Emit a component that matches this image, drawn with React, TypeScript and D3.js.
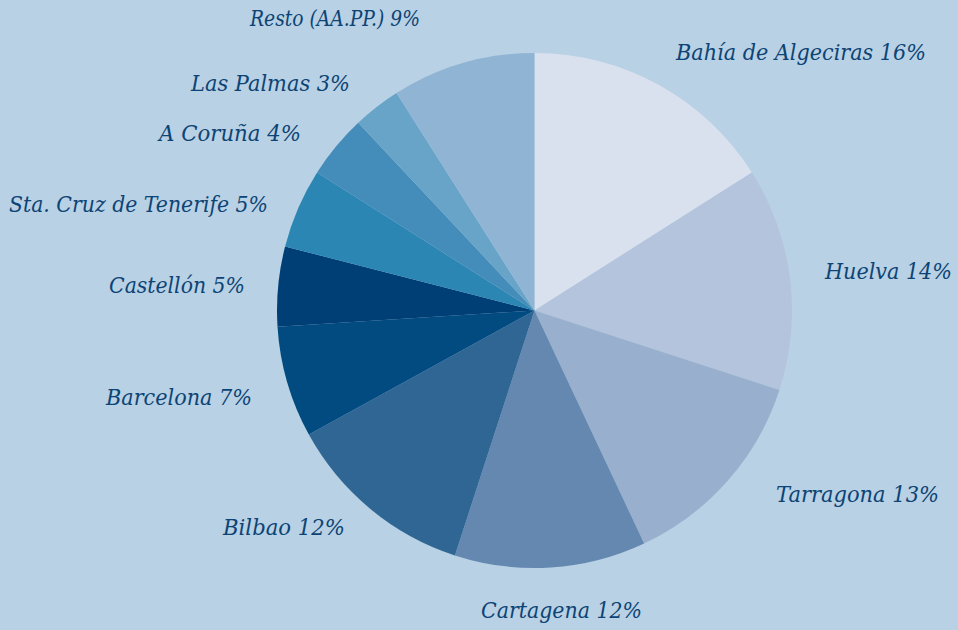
import React from "react";
import * as d3 from "d3";

const categories = [
  "Bahía de Algeciras",
  "Huelva",
  "Tarragona",
  "Cartagena",
  "Bilbao",
  "Barcelona",
  "Castellón",
  "Sta. Cruz de Tenerife",
  "A Coruña",
  "Las Palmas",
  "Resto (AA.PP.)",
];
const values = [16, 14, 13, 12, 12, 7, 5, 5, 4, 3, 9];
const colors = [
  "#dae1ee",
  "#b3c4dc",
  "#98afcd",
  "#6488b0",
  "#306694",
  "#024b80",
  "#003f75",
  "#2b86b3",
  "#448cb9",
  "#68a4c8",
  "#90b5d4",
];
// label layout: start x, baseline y, rendered width
const labelPos: [number, number, number][] = [
  [676, 60, 250],
  [825, 279, 127],
  [776, 502, 163],
  [481, 618, 161],
  [223, 535, 122],
  [106, 405, 146],
  [109, 293, 136],
  [9, 212, 259],
  [159, 141, 142],
  [191, 91, 159],
  [250, 26, 170],
];

const W = 958;
const H = 630;
const CX = 534.5;
const CY = 310.5;
const R = 257.5;

export default function App() {
  const pie = d3.pie<number>().sort(null).value((d) => d)(values);
  const arc = d3.arc<d3.PieArcDatum<number>>().innerRadius(0).outerRadius(R);
  return (
    <div style={{ position: "fixed", left: 0, top: 0, width: W, height: H }}>
      <svg width={W} height={H} style={{ display: "block" }}>
        <rect width={W} height={H} fill="#b9d1e4" />
        <g transform={`translate(${CX},${CY})`}>
          {pie.map((p, i) => (
            <path key={i} d={arc(p) || ""} fill={colors[i]} />
          ))}
        </g>
        {categories.map((c, i) => (
          <text
            key={i}
            x={labelPos[i][0]}
            y={labelPos[i][1]}
            fill="#0c4475"
            style={{
              fontFamily: "'DejaVu Serif', 'Liberation Serif', serif",
              fontStyle: "italic",
              fontSize: "22px",
            }}
            textLength={labelPos[i][2]}
            lengthAdjust="spacingAndGlyphs"
          >
            {`${c} ${values[i]}%`}
          </text>
        ))}
      </svg>
    </div>
  );
}
